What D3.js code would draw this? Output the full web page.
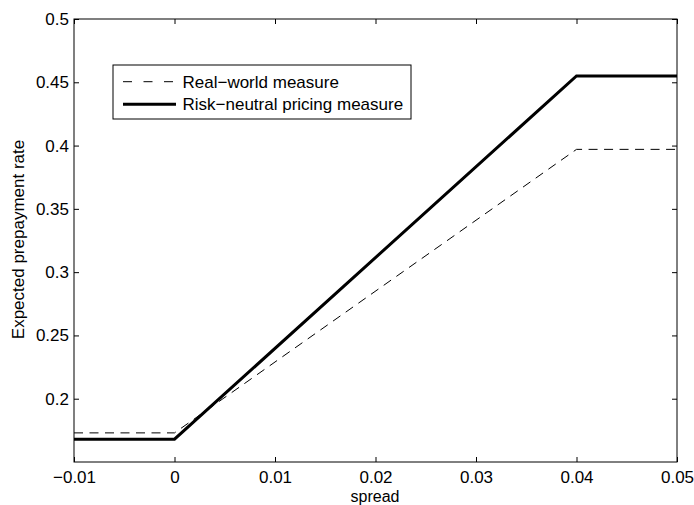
<!DOCTYPE html>
<html><head><meta charset="utf-8">
<script src="https://cdn.jsdelivr.net/npm/d3@7"></script>
<style>body{margin:0;background:#fff}svg{display:block}text{font-family:"Liberation Sans",Arial,sans-serif;fill:#000}</style>
</head><body>
<svg id="c" width="694" height="505"></svg>
<script>
const spread = [-0.01, 0, 0.04, 0.05];
const realWorld = [0.173, 0.173, 0.397, 0.397];
const riskNeutral = [0.168, 0.168, 0.455, 0.455];
const xTicks = [-0.01, 0, 0.01, 0.02, 0.03, 0.04, 0.05];
const yTicks = [0.2, 0.25, 0.3, 0.35, 0.4, 0.45, 0.5];
const seriesNames = ["Real\u2212world measure", "Risk\u2212neutral pricing measure"];

const L = 74, T = 19, R = 677, B = 462;
const FS = "17px";
const svg = d3.select("#c");
const x = d3.scaleLinear().domain([-0.01, 0.05]).range([L, R]);
const y = d3.scaleLinear().domain([0.15, 0.5]).range([B, T]);
const fmt = d => d === 0 ? "0" : (d < 0 ? "\u2212" + String(-d) : String(d));

const line = d3.line().x((d, i) => x(spread[i])).y(d => y(d));
svg.append("path").attr("d", line(realWorld)).attr("fill", "none").attr("stroke", "#000")
  .attr("stroke-width", 1).attr("stroke-dasharray", "9,6.5");
svg.append("path").attr("d", line(riskNeutral)).attr("fill", "none").attr("stroke", "#000")
  .attr("stroke-width", 3);

// axes
const ax = svg.append("g").attr("transform", `translate(0,${B})`)
  .call(d3.axisBottom(x).tickValues(xTicks).tickSize(-5).tickPadding(9).tickFormat(fmt));
const axT = svg.append("g").attr("transform", `translate(0,${T})`)
  .call(d3.axisTop(x).tickValues(xTicks).tickSize(-5).tickFormat(""));
const ay = svg.append("g").attr("transform", `translate(${L},0)`)
  .call(d3.axisLeft(y).tickValues(yTicks).tickSize(-5).tickPadding(5).tickFormat(d => String(d)));
const ayR = svg.append("g").attr("transform", `translate(${R},0)`)
  .call(d3.axisRight(y).tickValues(yTicks).tickSize(-5).tickFormat(""));
[ax, axT, ay, ayR].forEach(g => {
  g.select(".domain").remove();
  g.selectAll("line").attr("stroke", "#000");
  g.selectAll("text").style("font-size", FS).attr("fill", "#000");
});
svg.append("rect").attr("x", L).attr("y", T).attr("width", R - L).attr("height", B - T)
  .attr("fill", "none").attr("stroke", "#000").attr("stroke-width", 1);

svg.append("text").attr("x", 375).attr("y", 501.5).attr("text-anchor", "middle")
  .style("font-size", "16px").text("spread");
svg.append("text").attr("transform", `translate(24,239.5) rotate(-90)`)
  .attr("text-anchor", "middle").style("font-size", FS).text("Expected prepayment rate");

// legend
const lg = svg.append("g");
lg.append("rect").attr("x", 113).attr("y", 65).attr("width", 298).attr("height", 54)
  .attr("fill", "#fff").attr("stroke", "#000").attr("stroke-width", 1);
const styles = [{w: 1, dash: "9,11.5"}, {w: 3, dash: null}];
seriesNames.forEach((n, i) => {
  const yy = 81.7 + i * 22.6;
  lg.append("line").attr("x1", 123).attr("x2", 176).attr("y1", yy).attr("y2", yy)
    .attr("stroke", "#000").attr("stroke-width", styles[i].w).attr("stroke-dasharray", styles[i].dash);
  lg.append("text").attr("x", 182.5).attr("y", yy + 6).style("font-size", FS).text(n);
});
</script>
</body></html>
